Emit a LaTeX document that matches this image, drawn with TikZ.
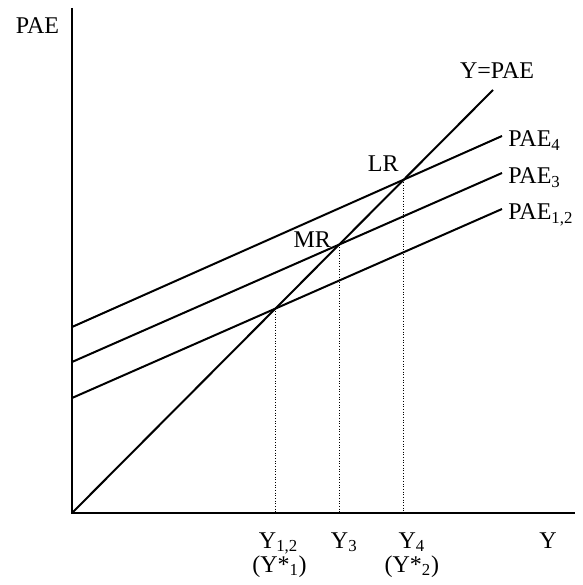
\documentclass[tikz,border=0pt]{standalone}
\usepackage{fontspec}
\setmainfont{Liberation Serif}
\usetikzlibrary{positioning}

\begin{document}
\begin{tikzpicture}[
        x=0.75pt, y=0.75pt,
        axis_line/.style={line width=1.5pt},
        schedule_line/.style={line width=1.5pt},
        guide_line/.style={line width=0.75pt, dash pattern=on 0.75pt off 1.25pt},
        label_node/.style={font=\fontsize{18}{21}\selectfont, inner sep=0pt}
    ]
        \useasboundingbox (-72,-72) rectangle (510,513);

        % Points
        \coordinate (origin) at (0,0);
        \coordinate (y_top) at (0,505);
        \coordinate (x_end) at (503,0);
        \coordinate (diag_end) at (421,423);
        \coordinate (pae4_start) at (0,186);
        \coordinate (pae4_end) at (430,377);
        \coordinate (pae3_start) at (0,151);
        \coordinate (pae3_end) at (430,340);
        \coordinate (pae12_start) at (0,115);
        \coordinate (pae12_end) at (430,304);
        \coordinate (lr_point) at (intersection of origin--diag_end and pae4_start--pae4_end);
        \coordinate (mr_point) at (intersection of origin--diag_end and pae3_start--pae3_end);
        \coordinate (sr_point) at (intersection of origin--diag_end and pae12_start--pae12_end);
        \coordinate (lr_foot) at (lr_point |- origin);
        \coordinate (mr_foot) at (mr_point |- origin);
        \coordinate (sr_foot) at (sr_point |- origin);

        % Lines
        \draw [axis_line] (y_top) -- (origin) -- (x_end);
        \draw [schedule_line] (origin) -- (diag_end);
        \draw [schedule_line] (pae4_start) -- (pae4_end);
        \draw [schedule_line] (pae3_start) -- (pae3_end);
        \draw [schedule_line] (pae12_start) -- (pae12_end);
        \draw [guide_line] (lr_point) -- (lr_foot);
        \draw [guide_line] (mr_point) -- (mr_foot);
        \draw [guide_line] (sr_point) -- (sr_foot);

        % Labels
        \node (pae_axis_label) [label_node, anchor=base] at (-34.5,479) {PAE};
        \node (y_axis_label) [label_node, anchor=base] at (476,-35) {Y};
        \node (diag_label) [label_node, anchor=base] at (425,434) {Y=PAE};
        \node (pae4_label) [label_node, anchor=base west] at ([shift={(6,-11)}]pae4_end) {PAE\textsubscript{4}};
        \node (pae3_label) [label_node, anchor=base west] at ([shift={(6,-11)}]pae3_end) {PAE\textsubscript{3}};
        \node (pae12_label) [label_node, anchor=base west] at ([shift={(6,-11)}]pae12_end) {PAE\textsubscript{1,2}};
        \node (lr_label) [label_node, anchor=base east] at ([shift={(-5,8)}]lr_point) {LR};
        \node (mr_label) [label_node, anchor=base east] at ([shift={(-8,-3)}]mr_point) {MR};
        \node (y12_label) [label_node, anchor=base] at ([shift={(3,-35)}]sr_foot) {Y\textsubscript{1,2}};
        \node (ystar1_label) [label_node, anchor=base] at ([shift={(4,-59)}]sr_foot) {(Y*\textsubscript{1})};
        \node (y3_label) [label_node, anchor=base] at ([shift={(5,-35)}]mr_foot) {Y\textsubscript{3}};
        \node (y4_label) [label_node, anchor=base] at ([shift={(8,-35)}]lr_foot) {Y\textsubscript{4}};
        \node (ystar2_label) [label_node, anchor=base] at ([shift={(8,-59)}]lr_foot) {(Y*\textsubscript{2})};
    \end{tikzpicture}
\end{document}
